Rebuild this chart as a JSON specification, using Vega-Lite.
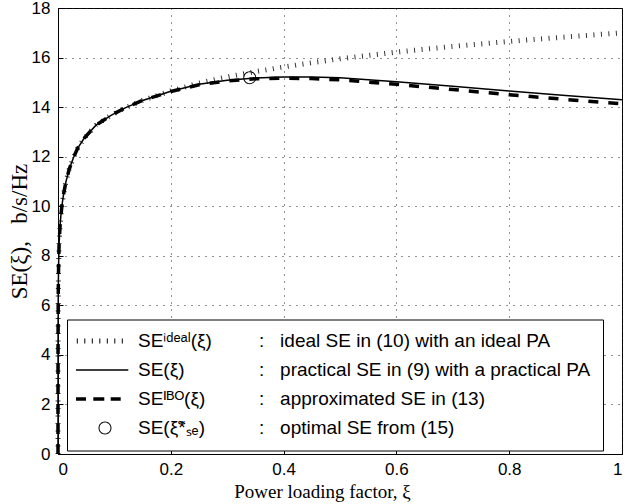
{
  "$schema": "https://vega.github.io/schema/vega-lite/v6.json",
  "width": 564,
  "height": 446,
  "autosize": {"type": "none"},
  "padding": {"left": 58, "top": 8, "right": 3, "bottom": 50},
  "background": "white",
  "config": {
    "view": {"stroke": "black", "strokeWidth": 1},
    "font": "Liberation Sans",
    "axis": {
      "domainColor": "black",
      "tickColor": "black",
      "tickSize": -5,
      "labelColor": "black",
      "labelFont": "Liberation Sans",
      "labelFontSize": 17,
      "gridColor": "#222222",
      "gridDash": [1, 6],
      "gridWidth": 1,
      "gridOpacity": 1,
      "titleFont": "Liberation Serif",
      "titleFontWeight": "normal",
      "titleFontSize": 19,
      "titleColor": "black"
    }
  },
  "datasets": {
    "curves": [
      {"series": "ideal", "xi": 0, "se": 0},
      {"series": "ideal", "xi": 0.00005, "se": 3.0},
      {"series": "ideal", "xi": 0.0001, "se": 4.2},
      {"series": "ideal", "xi": 0.0002, "se": 5.2},
      {"series": "ideal", "xi": 0.0004, "se": 6.2},
      {"series": "ideal", "xi": 0.0007, "se": 7.0},
      {"series": "ideal", "xi": 0.0012, "se": 7.8},
      {"series": "ideal", "xi": 0.002, "se": 8.5},
      {"series": "ideal", "xi": 0.0035, "se": 9.15},
      {"series": "ideal", "xi": 0.005, "se": 9.6},
      {"series": "ideal", "xi": 0.0071, "se": 10.05},
      {"series": "ideal", "xi": 0.01, "se": 10.5},
      {"series": "ideal", "xi": 0.0142, "se": 11.0},
      {"series": "ideal", "xi": 0.02, "se": 11.5},
      {"series": "ideal", "xi": 0.0272, "se": 11.95},
      {"series": "ideal", "xi": 0.035, "se": 12.35},
      {"series": "ideal", "xi": 0.0466, "se": 12.75},
      {"series": "ideal", "xi": 0.0674, "se": 13.27},
      {"series": "ideal", "xi": 0.094, "se": 13.67},
      {"series": "ideal", "xi": 0.12, "se": 13.98},
      {"series": "ideal", "xi": 0.15, "se": 14.27},
      {"series": "ideal", "xi": 0.2, "se": 14.65},
      {"series": "ideal", "xi": 0.25, "se": 14.97},
      {"series": "ideal", "xi": 0.3, "se": 15.22},
      {"series": "ideal", "xi": 0.35, "se": 15.43},
      {"series": "ideal", "xi": 0.4, "se": 15.62},
      {"series": "ideal", "xi": 0.45, "se": 15.79},
      {"series": "ideal", "xi": 0.5, "se": 15.95},
      {"series": "ideal", "xi": 0.6, "se": 16.22},
      {"series": "ideal", "xi": 0.7, "se": 16.45},
      {"series": "ideal", "xi": 0.8, "se": 16.65},
      {"series": "ideal", "xi": 0.9, "se": 16.83},
      {"series": "ideal", "xi": 1.0, "se": 17.0},

      {"series": "ibo", "xi": 0, "se": 0},
      {"series": "ibo", "xi": 0.00005, "se": 3.0},
      {"series": "ibo", "xi": 0.0001, "se": 4.2},
      {"series": "ibo", "xi": 0.0002, "se": 5.2},
      {"series": "ibo", "xi": 0.0004, "se": 6.2},
      {"series": "ibo", "xi": 0.0007, "se": 7.0},
      {"series": "ibo", "xi": 0.0012, "se": 7.8},
      {"series": "ibo", "xi": 0.002, "se": 8.5},
      {"series": "ibo", "xi": 0.0035, "se": 9.15},
      {"series": "ibo", "xi": 0.005, "se": 9.6},
      {"series": "ibo", "xi": 0.0071, "se": 10.05},
      {"series": "ibo", "xi": 0.01, "se": 10.5},
      {"series": "ibo", "xi": 0.0142, "se": 11.0},
      {"series": "ibo", "xi": 0.02, "se": 11.5},
      {"series": "ibo", "xi": 0.0272, "se": 11.95},
      {"series": "ibo", "xi": 0.035, "se": 12.35},
      {"series": "ibo", "xi": 0.0466, "se": 12.75},
      {"series": "ibo", "xi": 0.0674, "se": 13.27},
      {"series": "ibo", "xi": 0.094, "se": 13.67},
      {"series": "ibo", "xi": 0.12, "se": 13.98},
      {"series": "ibo", "xi": 0.15, "se": 14.27},
      {"series": "ibo", "xi": 0.2, "se": 14.63},
      {"series": "ibo", "xi": 0.25, "se": 14.9},
      {"series": "ibo", "xi": 0.3, "se": 15.06},
      {"series": "ibo", "xi": 0.35, "se": 15.14},
      {"series": "ibo", "xi": 0.4, "se": 15.17},
      {"series": "ibo", "xi": 0.45, "se": 15.15},
      {"series": "ibo", "xi": 0.5, "se": 15.1},
      {"series": "ibo", "xi": 0.6, "se": 14.92},
      {"series": "ibo", "xi": 0.7, "se": 14.71},
      {"series": "ibo", "xi": 0.8, "se": 14.5},
      {"series": "ibo", "xi": 0.9, "se": 14.31},
      {"series": "ibo", "xi": 1.0, "se": 14.13},

      {"series": "practical", "xi": 0, "se": 0},
      {"series": "practical", "xi": 0.00005, "se": 3.0},
      {"series": "practical", "xi": 0.0001, "se": 4.2},
      {"series": "practical", "xi": 0.0002, "se": 5.2},
      {"series": "practical", "xi": 0.0004, "se": 6.2},
      {"series": "practical", "xi": 0.0007, "se": 7.0},
      {"series": "practical", "xi": 0.0012, "se": 7.8},
      {"series": "practical", "xi": 0.002, "se": 8.5},
      {"series": "practical", "xi": 0.0035, "se": 9.15},
      {"series": "practical", "xi": 0.005, "se": 9.6},
      {"series": "practical", "xi": 0.0071, "se": 10.05},
      {"series": "practical", "xi": 0.01, "se": 10.5},
      {"series": "practical", "xi": 0.0142, "se": 11.0},
      {"series": "practical", "xi": 0.02, "se": 11.5},
      {"series": "practical", "xi": 0.0272, "se": 11.95},
      {"series": "practical", "xi": 0.035, "se": 12.35},
      {"series": "practical", "xi": 0.0466, "se": 12.75},
      {"series": "practical", "xi": 0.0674, "se": 13.27},
      {"series": "practical", "xi": 0.094, "se": 13.67},
      {"series": "practical", "xi": 0.12, "se": 13.98},
      {"series": "practical", "xi": 0.15, "se": 14.27},
      {"series": "practical", "xi": 0.2, "se": 14.64},
      {"series": "practical", "xi": 0.25, "se": 14.92},
      {"series": "practical", "xi": 0.3, "se": 15.08},
      {"series": "practical", "xi": 0.35, "se": 15.17},
      {"series": "practical", "xi": 0.4, "se": 15.22},
      {"series": "practical", "xi": 0.45, "se": 15.22},
      {"series": "practical", "xi": 0.5, "se": 15.18},
      {"series": "practical", "xi": 0.55, "se": 15.1},
      {"series": "practical", "xi": 0.6, "se": 15.02},
      {"series": "practical", "xi": 0.7, "se": 14.84},
      {"series": "practical", "xi": 0.8, "se": 14.65},
      {"series": "practical", "xi": 0.9, "se": 14.47},
      {"series": "practical", "xi": 1.0, "se": 14.3}
    ],
    "opt": [
      {"series": "opt", "desc": ":\u00a0\u00a0\u00a0optimal SE from (15)", "xi": 0.34, "se": 15.19}
    ]
  },
  "encoding": {
    "x": {
      "field": "xi",
      "type": "quantitative",
      "scale": {"domain": [0, 1], "nice": false, "zero": false},
      "axis": {
        "values": [0, 0.2, 0.4, 0.6, 0.8, 1],
        "format": "~g",
        "title": "Power loading factor, \u03be",
        "labelPadding": 12,
        "titlePadding": 5,
        "titleX": 264
      }
    },
    "y": {
      "field": "se",
      "type": "quantitative",
      "scale": {"domain": [0, 18], "nice": false, "zero": false},
      "axis": {
        "values": [0, 2, 4, 6, 8, 10, 12, 14, 16, 18],
        "title": "SE(\u03be),\u00a0\u00a0\u00a0b/s/Hz",
        "titleFontSize": 23,
        "labelPadding": 13,
        "titlePadding": 0
      }
    }
  },
  "layer": [
    {
      "data": {"name": "curves"},
      "transform": [{"filter": "datum.series === 'ideal'"}],
      "mark": {"type": "line", "color": "#333333", "strokeWidth": 5, "strokeDash": [1, 6.5], "strokeCap": "butt"}
    },
    {
      "data": {"name": "curves"},
      "transform": [{"filter": "datum.series === 'ibo'"}],
      "mark": {"type": "line", "color": "black", "strokeWidth": 3.5, "strokeDash": [10, 10], "strokeCap": "butt"}
    },
    {
      "data": {"name": "curves"},
      "transform": [{"filter": "datum.series === 'practical'"}],
      "mark": {"type": "line", "color": "black", "strokeWidth": 1.5}
    },
    {
      "data": {"name": "opt"},
      "mark": {"type": "point", "filled": true, "size": 4, "strokeWidth": 0, "opacity": 1},
      "encoding": {
        "shape": {
          "field": "series",
          "type": "nominal",
          "scale": {
            "domain": ["ideal", "practical", "ibo", "opt"],
            "range": [
              "M-28.2,-2.5h1v5h-1zM-20.7,-2.5h1v5h-1zM-13.2,-2.5h1v5h-1zM-5.7,-2.5h1v5h-1zM1.8,-2.5h1v5h-1zM9.3,-2.5h1v5h-1zM16.8,-2.5h1v5h-1z",
              "M-29,-0.75h52.3v1.5h-52.3z",
              "M-29,-1.75h10v3.5h-10zM-11.7,-1.75h11v3.5h-11zM5.7,-1.75h10v3.5h-10z",
              "M6.5,0A6.5,6.5 0 1,0 -6.5,0A6.5,6.5 0 1,0 6.5,0ZM5.5,0A5.5,5.5 0 1,1 -5.5,0A5.5,5.5 0 1,1 5.5,0Z"
            ]
          },
          "legend": {
            "title": null,
            "orient": "none",
            "legendX": 9,
            "legendY": 311.5,
            "padding": 12,
            "symbolSize": 4,
            "symbolOffset": 16.5,
            "labelOffset": 23.5,
            "labelFont": "Liberation Sans",
            "labelFontSize": 19,
            "labelColor": "black",
            "labelLimit": 0,
            "rowPadding": 9,
            "symbolFillColor": "black",
            "symbolStrokeWidth": 0,
            "symbolOpacity": 1,
            "zindex": 2,
            "labelExpr": "datum.value === 'ideal' ? 'SE\u2071\u1d48\u1d49\u1d43\u02e1(\u03be)' : datum.value === 'practical' ? 'SE(\u03be)' : datum.value === 'ibo' ? 'SE\u1d35\u1d2e\u1d3c(\u03be)' : 'SE(\u03be\u0303*\u209b\u2091)'"
          }
        },
        "color": {
          "field": "desc",
          "type": "nominal",
          "scale": {
            "domain": [
              ":\u00a0\u00a0\u00a0ideal SE in (10) with an ideal PA",
              ":\u00a0\u00a0\u00a0practical SE in (9) with a practical PA",
              ":\u00a0\u00a0\u00a0approximated SE in (13)",
              ":\u00a0\u00a0\u00a0optimal SE from (15)"
            ],
            "range": ["black", "black", "black", "black"]
          },
          "legend": {
            "title": null,
            "orient": "none",
            "legendX": 9,
            "legendY": 311.5,
            "padding": 12,
            "symbolSize": 4,
            "symbolOpacity": 0,
            "labelOffset": 161,
            "labelFont": "Liberation Sans",
            "labelFontSize": 19,
            "labelColor": "black",
            "labelLimit": 0,
            "rowPadding": 9,
            "strokeColor": "black",
            "fillColor": "white",
            "zindex": 1
          }
        }
      }
    }
  ]
}
